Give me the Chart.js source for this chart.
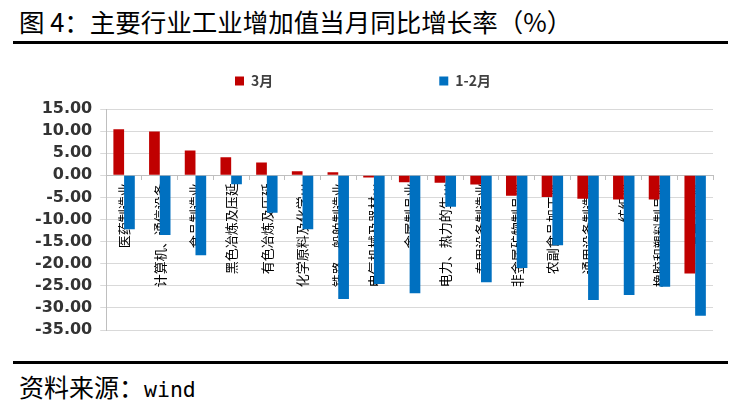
<!DOCTYPE html>
<html>
<head>
<meta charset="utf-8">
<script src="https://cdn.jsdelivr.net/npm/chart.js@4.4.0/dist/chart.umd.min.js"></script>
<style>
  body { margin: 0; background: #fff; width: 741px; height: 407px; overflow: hidden; position: relative; font-family: "Noto Sans CJK SC", sans-serif; }
  #title { position: absolute; left: 19px; top: 2px; font-size: 25.5px; color: #000; white-space: nowrap; }
  .rule { position: absolute; left: 13px; width: 715px; height: 3px; background: #000; }
  #foot { position: absolute; left: 19px; top: 368px; font-size: 25px; color: #000; white-space: nowrap; }
  #foot span { font-family: "DejaVu Sans Mono", monospace; font-size: 21.5px; }
  #box { position: absolute; left: 0; top: 62px; width: 741px; height: 290px; }
</style>
</head>
<body>
<div id="title">图 4：主要行业工业增加值当月同比增长率（%）</div>
<div class="rule" style="top:41px"></div>
<div id="box"><canvas id="myChart"></canvas></div>
<div class="rule" style="top:361px"></div>
<div id="foot">资料来源：<span>wind</span></div>
<script>
// 行业名称（图中截断的写法）
let industries = ['医药制造业', '计算机、通信设备', '食品制造业', '黑色冶炼及压延', '有色冶炼及压延',
  '化学原料及化学…', '铁路、船舶制造业', '电气机械及器材…', '金属制品业', '电力、热力的生…',
  '专用设备制造业', '非金属矿物制品业', '农副食品加工业', '通用设备制造业', '纺织业',
  '橡胶和塑料制品业', '汽车制造业'];

// 3月
let march = [10.4, 9.9, 5.6, 4.1, 2.9, 0.9, 0.7, -0.5, -1.6, -1.7, -2.1, -4.6, -4.9, -5.3, -5.5, -5.5, -22.2];
// 1-2月
let janFeb = [-12.2, -13.5, -18.1, -2.0, -8.5, -12.2, -28.0, -24.6, -26.7, -7.1, -24.2, -21.0, -15.8, -28.2, -27.1, -25.2, -31.8];

let seriesNames = ['3月', '1-2月'];
let yMin = -35, yMax = 15, yStep = 5;

// legend items are far apart in the original, pad them with blank space
function padLabel(text, i) {
  return i === 0 ? text + '\u3000'.repeat(11) : text + '\u3000';
}

// more room under the legend
let legendGap = {
  id: 'legendGap',
  beforeInit: function (chart) {
    let fit = chart.legend.fit;
    chart.legend.fit = function () {
      fit.bind(chart.legend)();
      this.height += 11;
    };
  }
};

let ctx = document.getElementById('myChart').getContext('2d');
let chart = new Chart(ctx, {
  type: 'bar',
  data: {
    labels: industries,
    datasets: [{
      label: seriesNames[0],
      data: march,
      backgroundColor: '#C00000',
      categoryPercentage: 0.6,
      barPercentage: 1.0
    }, {
      label: seriesNames[1],
      data: janFeb,
      backgroundColor: '#0070C0',
      categoryPercentage: 0.6,
      barPercentage: 1.0
    }]
  },
  plugins: [legendGap],
  options: {
    responsive: true,
    maintainAspectRatio: false,
    animation: false,
    layout: { padding: { left: 27, right: 28, top: 0, bottom: 22 } },
    plugins: {
      tooltip: { enabled: false },
      legend: {
        position: 'top',
        labels: {
          boxWidth: 9,
          boxHeight: 9,
          padding: 12,
          color: '#404040',
          font: { family: 'Noto Sans CJK SC', size: 14, weight: 'bold' },
          generateLabels: function (c) {
            let items = Chart.defaults.plugins.legend.labels.generateLabels(c);
            items.forEach(function (it, i) { it.text = padLabel(it.text, i); });
            return items;
          }
        }
      }
    },
    scales: {
      x: {
        position: { y: 0 },
        z: 1,
        grid: { display: true, drawOnChartArea: false, drawTicks: true, tickLength: 4, color: '#bfbfbf' },
        border: { display: true, color: '#bfbfbf' },
        ticks: {
          autoSkip: false,
          minRotation: 90,
          maxRotation: 90,
          padding: 4,
          color: '#000',
          font: { family: 'Noto Sans CJK SC', size: 13 }
        }
      },
      y: {
        min: yMin,
        max: yMax,
        grid: { color: '#d9d9d9', tickLength: 6 },
        border: { display: true, color: '#bfbfbf' },
        ticks: {
          stepSize: yStep,
          autoSkip: false,
          padding: 8,
          color: '#333',
          font: { family: 'DejaVu Sans', size: 16, weight: 'bold' },
          callback: function (v) { return v.toFixed(2); }
        }
      }
    }
  }
});
</script>
</body>
</html>
